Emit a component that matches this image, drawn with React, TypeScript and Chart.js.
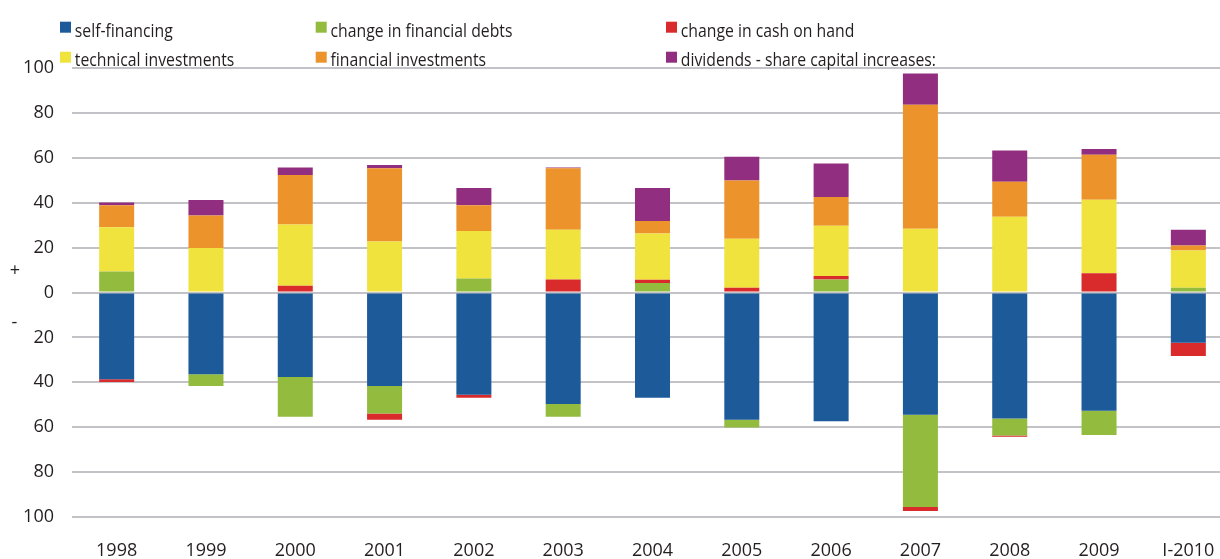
import { useEffect, useRef } from 'react';
import { Chart, registerables } from 'chart.js';

Chart.register(...registerables);

const categories = ['1998', '1999', '2000', '2001', '2002', '2003', '2004', '2005', '2006', '2007', '2008', '2009', 'I-2010'];

const selfFinancing = [-38.6, -36.4, -37.6, -41.6, -45.6, -49.7, -46.9, -56.7, -57.3, -54.5, -56.1, -52.7, -22.4];
const financialDebts = [9.4, -5.2, -17.8, -12.3, 6.2, -5.7, 4.2, -3.4, 5.8, -41.1, -7.6, -10.8, 2.1];
const cashOnHand = [-1.3, 0, 3.0, -2.8, -1.3, 5.8, 1.5, 2.1, 1.6, -1.7, -0.6, 8.6, -5.9];
const technicalInvestments = [19.7, 19.8, 27.3, 22.7, 21.2, 22.1, 20.6, 21.8, 22.3, 28.4, 33.7, 32.7, 16.6];
const financialInvestments = [9.8, 14.5, 22.0, 32.6, 11.5, 27.4, 5.6, 26.0, 12.8, 55.2, 15.6, 20.1, 2.2];
const dividends = [1.2, 6.9, 3.4, 1.5, 7.6, 0.4, 14.6, 10.6, 15.0, 13.9, 14.0, 2.5, 7.0];

const seriesLabels = [
  'self-financing',
  'change in financial debts',
  'change in cash on hand',
  'technical investments',
  'financial investments',
  'dividends - share capital increases:',
];
const seriesColors = ['#1d5a9a', '#93bb3e', '#d92a2c', '#f0e33d', '#ec932c', '#912e7f'];

const yTickValues = [-100, -80, -60, -40, -20, 0, 20, 40, 60, 80, 100];

const TEXT = '#231f20';
const FONT = 'Open Sans';

const legendPlugin = {
  id: 'customLegend',
  afterDraw(chart: any) {
    const ctx = chart.ctx;
    const colX = [60, 315.7, 666];
    const rowBoxY = [21.7, 51.7];
    const rowBase = [36.5, 66];
    ctx.save();
    chart.data.datasets.forEach((ds: any, i: number) => {
      const col = i % 3;
      const row = Math.floor(i / 3);
      ctx.fillStyle = ds.backgroundColor;
      ctx.fillRect(colX[col], rowBoxY[row], 11, 11);
      ctx.save();
      ctx.translate(colX[col] + 14.8, rowBase[row]);
      ctx.scale(0.83, 1);
      ctx.fillStyle = TEXT;
      ctx.font = `19px "${FONT}"`;
      ctx.textBaseline = 'alphabetic';
      ctx.textAlign = 'left';
      ctx.fillText(ds.label, 0, 0);
      ctx.restore();
    });
    const y = chart.scales.y;
    ctx.fillStyle = TEXT;
    ctx.font = `18px "${FONT}"`;
    ctx.textAlign = 'center';
    ctx.textBaseline = 'middle';
    ctx.fillText('+', 15, y.getPixelForValue(9.7));
    ctx.fillText('-', 14.5, y.getPixelForValue(-13.5));
    ctx.restore();
  },
};

export default function App() {
  const ref = useRef<HTMLCanvasElement | null>(null);
  useEffect(() => {
    if (!ref.current) return;
    const values = [selfFinancing, financialDebts, cashOnHand, technicalInvestments, financialInvestments, dividends];
    const chart = new Chart(ref.current, {
      type: 'bar',
      data: {
        labels: categories,
        datasets: values.map((d, i) => ({
          label: seriesLabels[i],
          data: d,
          backgroundColor: seriesColors[i],
          borderWidth: 0,
          barPercentage: 0.392,
          categoryPercentage: 1,
        })),
      },
      options: {
        animation: false,
        responsive: false,
        devicePixelRatio: 1,
        layout: { padding: { top: 68, left: 0, right: 0, bottom: 0 } },
        plugins: { legend: { display: false }, tooltip: { enabled: false } },
        scales: {
          x: {
            type: 'category',
            stacked: true,
            grid: { display: false },
            border: { display: false },
            ticks: {
              font: { family: FONT, size: 18 },
              color: TEXT,
              padding: 15,
              maxRotation: 0,
              autoSkip: false,
            },
            afterFit: (s: any) => {
              s.height = 42;
            },
          },
          y: {
            stacked: true,
            min: -100,
            max: 100,
            afterBuildTicks: (s: any) => {
              s.ticks = yTickValues.map((v) => ({ value: v }));
            },
            ticks: {
              callback: (v: any) => String(Math.abs(Number(v))),
              font: { family: FONT, size: 18 },
              color: TEXT,
              padding: 18,
            },
            grid: { color: '#c2c2c7', lineWidth: 2, drawTicks: false },
            border: { display: false },
            afterFit: (s: any) => {
              s.width = 72;
            },
          },
        },
      },
      plugins: [legendPlugin],
    });
    return () => chart.destroy();
  }, []);
  return (
    <div style={{ position: 'fixed', left: 0, top: 0, width: 1220, height: 559, overflow: 'hidden', background: '#fff' }}>
      <canvas ref={ref} width={1233} height={559} style={{ display: 'block', width: 1233, height: 559 }} />
    </div>
  );
}
